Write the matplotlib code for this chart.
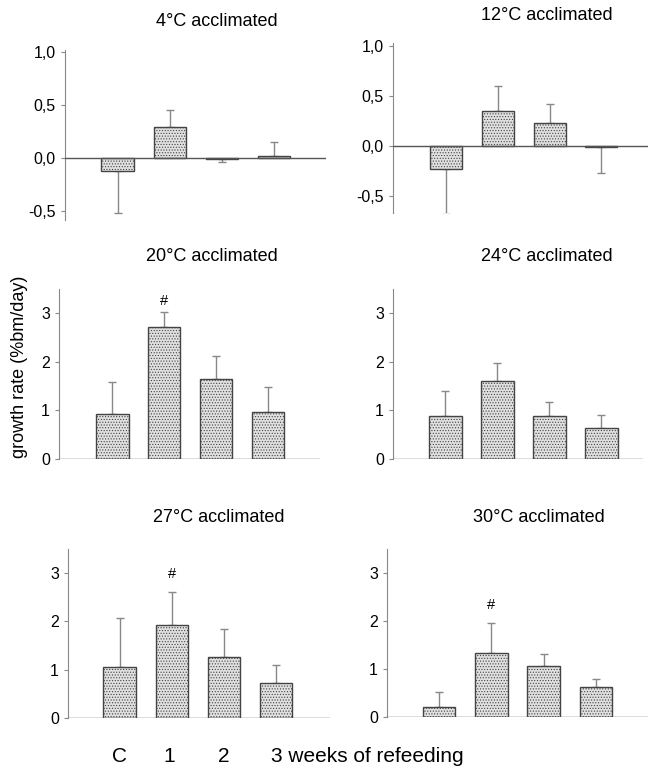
import matplotlib.pyplot as plt
import numpy as np

# growth rate (%bm/day) for C, 1, 2, 3 weeks of refeeding
titles = ['4°C acclimated', '12°C acclimated', '20°C acclimated',
          '24°C acclimated', '27°C acclimated', '30°C acclimated']
weeks = ['C', '1', '2', '3 weeks of refeeding']
means = [[-0.12, 0.29, -0.01, 0.02],
         [-0.23, 0.35, 0.23, -0.01],
         [0.93, 2.72, 1.65, 0.97],
         [0.88, 1.60, 0.88, 0.63],
         [1.05, 1.92, 1.27, 0.73],
         [0.20, 1.33, 1.07, 0.62]]
errs = [[0.40, 0.16, 0.03, 0.13],
        [0.45, 0.25, 0.19, 0.26],
        [0.65, 0.30, 0.47, 0.51],
        [0.52, 0.38, 0.30, 0.28],
        [1.02, 0.68, 0.58, 0.37],
        [0.33, 0.62, 0.25, 0.17]]
# '#' marks: bar index and height
sig_bar = [None, None, 1, None, 1, 1]
sig_y = [None, None, 3.26, None, 2.98, 2.33]

ylims = [(-0.585, 1.02), (-0.67, 1.03), (0, 3.5), (0, 3.5), (0, 3.5), (0, 3.5)]
yticks = [[-0.5, 0, 0.5, 1.0], [-0.5, 0, 0.5, 1.0],
          [0, 1, 2, 3], [0, 1, 2, 3], [0, 1, 2, 3], [0, 1, 2, 3]]
# panel boxes in pixels: left, right, top, bottom
boxes = [(65, 326, 50, 220), (393, 648, 43, 213),
         (59, 320, 289, 459), (393, 643, 289, 459),
         (68, 330, 549, 718), (387, 648, 549, 717)]
xlims = [(-1.01, 4.0), (-1.03, 3.9), (-1.03, 4.0), (-1.01, 3.8),
         (-0.99, 4.03), (-1.0, 4.0)]
# title centres in pixels
title_pos = [(217, 22), (547, 15), (212, 257), (547, 257), (219, 518), (539, 518)]

W, H = 649, 767
plt.rcParams['font.family'] = 'Liberation Sans'
plt.rcParams['hatch.color'] = '#b4b4b4'
plt.rcParams['hatch.linewidth'] = 0.5
fig = plt.figure(figsize=(W / 100, H / 100), dpi=100)

x = np.arange(4)
for k in range(6):
    l, r, t, b = boxes[k]
    ax = fig.add_axes([l / W, 1 - b / H, (r - l) / W, (b - t) / H])
    m = np.array(means[k])
    e = np.array(errs[k])
    lower = np.where(m < 0, e, 0)
    upper = np.where(m >= 0, e, 0)
    ax.errorbar(x, m, yerr=[lower, upper], fmt='none', ecolor='#888888',
                elinewidth=1.0, capsize=3, capthick=1.0, zorder=1)
    ax.bar(x, m, width=0.62, color='#e0e0e0', edgecolor='#444444',
           linewidth=1.0, hatch='......', zorder=2)
    ax.axhline(0, color='#555555', linewidth=1.0, zorder=3)
    if sig_bar[k] is not None:
        ax.text(x[sig_bar[k]], sig_y[k], '#', ha='center', va='center',
                fontsize=10.5)
    ax.set_xlim(*xlims[k])
    ax.set_ylim(*ylims[k])
    ax.set_yticks(yticks[k])
    if k < 2:
        ax.set_yticklabels([('%.1f' % v).replace('.', ',') for v in yticks[k]])
    for s in ['top', 'right', 'bottom']:
        ax.spines[s].set_visible(False)
    ax.spines['left'].set_color('#888888')
    ax.set_xticks([])
    ax.tick_params(axis='y', length=3, color='#888888', labelsize=11.5)
    tx, ty = title_pos[k]
    fig.text(tx / W, 1 - ty / H, titles[k], ha='center', va='center',
             fontsize=13)
    if k == 4:
        for i in range(3):
            ax.text(x[i] - 0.05 * (i == 1), -0.8, weeks[i], ha='center',
                    va='center', fontsize=15)
        ax.text(x[3] - 0.1, -0.8, weeks[3], ha='left', va='center',
                fontsize=15, clip_on=False)

fig.text(20 / W, 1 - 367 / H, 'growth rate (%bm/day)', rotation=90,
         ha='center', va='center', fontsize=13)

plt.savefig('out.png', dpi=100)
